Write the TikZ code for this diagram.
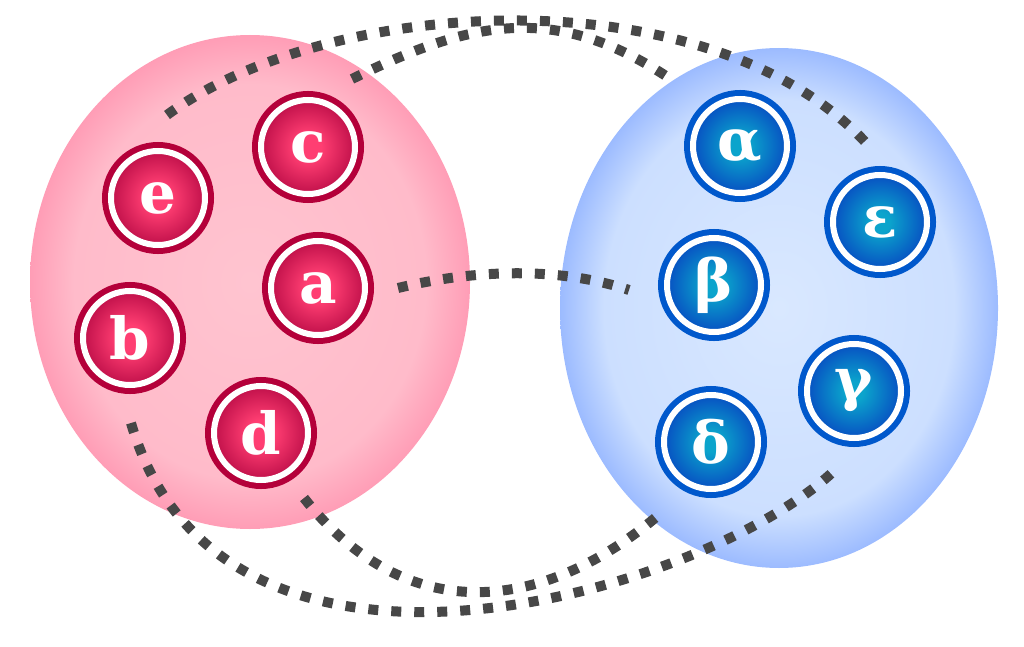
\documentclass[tikz,border=0pt]{standalone}
\usepackage{fontspec}
\setmainfont{DejaVu Serif}
\usetikzlibrary{calc}
\definecolor{pinkC}{HTML}{FFC4D0}
\definecolor{pinkM}{HTML}{FFBBCA}
\definecolor{pinkE}{HTML}{FF9DB6}
\definecolor{blueC}{HTML}{D9E8FF}
\definecolor{blueM}{HTML}{CCDFFF}
\definecolor{blueE}{HTML}{9CBBFF}
\definecolor{redC}{HTML}{FF3E72}
\definecolor{redE}{HTML}{C0104A}
\definecolor{ringred}{HTML}{B4003A}
\definecolor{bluC}{HTML}{0BA4CC}
\definecolor{bluE}{HTML}{0750C2}
\definecolor{ringblue}{HTML}{0058CC}
\definecolor{dotc}{HTML}{474747}
\pgfdeclareradialshading{pinkell}{\pgfpoint{0bp}{0bp}}{color(0bp)=(pinkC); color(20bp)=(pinkM); color(25bp)=(pinkE); color(50bp)=(pinkE)}
\pgfdeclareradialshading{blueell}{\pgfpoint{0bp}{0bp}}{color(0bp)=(blueC); color(20bp)=(blueM); color(25bp)=(blueE); color(50bp)=(blueE)}
\pgfdeclareradialshading{redball}{\pgfpoint{0bp}{0bp}}{color(0bp)=(redC); color(7bp)=(redC); color(25bp)=(redE); color(50bp)=(redE)}
\pgfdeclareradialshading{blueball}{\pgfpoint{0bp}{0bp}}{color(0bp)=(bluC); color(5bp)=(bluC); color(25bp)=(bluE); color(50bp)=(bluE)}
\begin{document}
\begin{tikzpicture}[x=1pt,y=-1pt,
  ball/.style={circle, minimum size=94pt, inner sep=0pt, draw=white, line width=6pt,
    text=white, font=\fontsize{58}{62}\selectfont\bfseries},
  rball/.style={ball, shade, shading=redball, preaction={draw=ringred, line width=18pt}},
  bball/.style={ball, shade, shading=blueball, preaction={draw=ringblue, line width=18pt}},
  conn/.style={draw=dotc, line width=10pt, dash pattern=on 10pt off 13pt}]
\useasboundingbox (0,0) rectangle (1024,647);
\shade[shading=pinkell] (250,282) ellipse [x radius=220, y radius=247];
\shade[shading=blueell] (779,308) ellipse [x radius=219, y radius=260];
\node[rball] (c) at (308,147) {c};
\node[rball] (e) at (158,198) {e};
\node[rball] (a) at (318,288) {a};
\node[rball] (b) at (130,338) {b};
\node[rball] (d) at (261,433) {d};
\node[bball] (al) at (740,146) {α};
\node[bball] (ep) at (880,222) {ε};
\node[bball] (be) at (714,285) {β};
\node[bball] (ga) at (854,391) {γ};
\node[bball] (de) at (711,442) {δ};
\draw[conn] ($(e)+(9,-83)$) .. controls +(162,-120) and +(-156,-172) .. ($(ep)+(-12,-77)$);
\draw[conn] ($(c)+(44,-68)$) .. controls +(122,-60) and +(-117,-80) .. ($(al)+(-65,-64)$);
\draw[conn] ($(a)+(80,0)$) .. controls +(74,-18) and +(-72,-24) .. ($(be)+(-85,5)$);
\draw[conn] ($(b)+(1,85)$) .. controls +(92,315) and +(-127,121) .. ($(ga)+(-19,79)$);
\draw[conn] ($(d)+(43,65)$) .. controls +(105,133) and +(-114,98) .. ($(de)+(-50,71)$);
\end{tikzpicture}
\end{document}
